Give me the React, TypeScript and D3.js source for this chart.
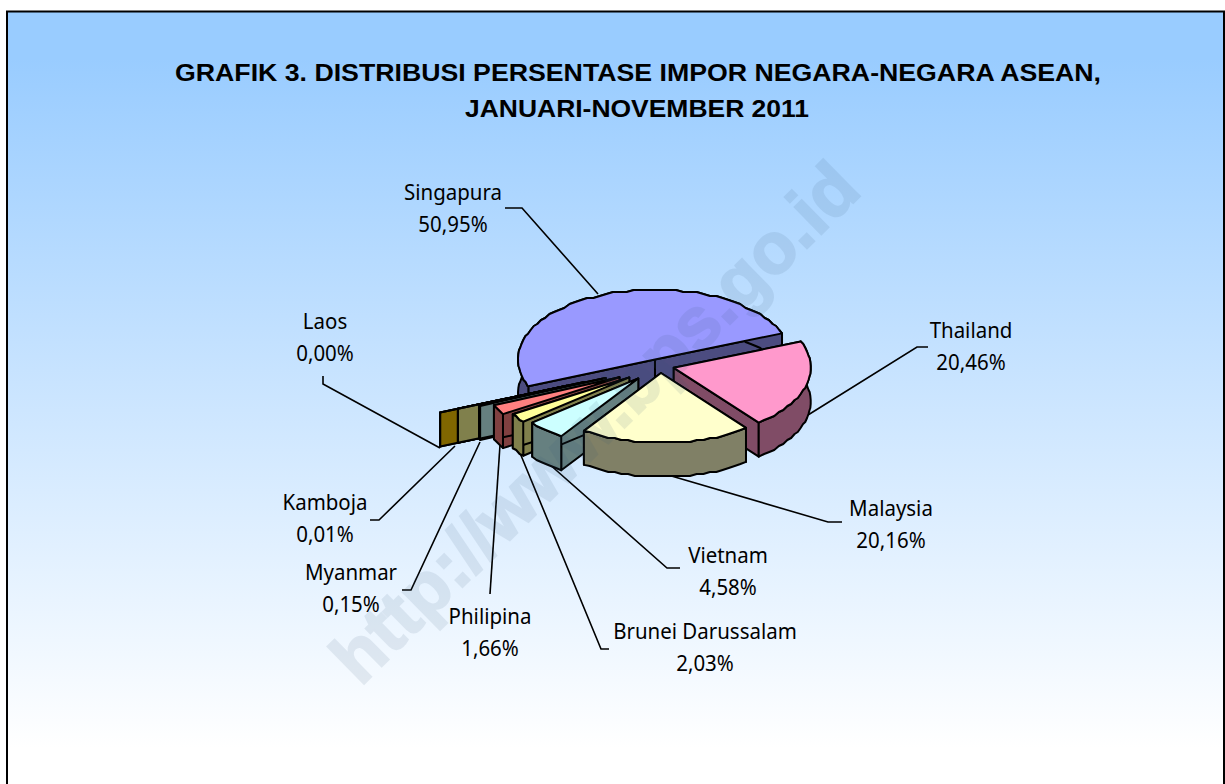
import React from "react";
import * as d3 from "d3";

const categories = ["Singapura","Thailand","Malaysia","Vietnam","Brunei Darussalam","Philipina","Myanmar","Kamboja","Laos"];
const shares = [50.95,20.46,20.16,4.58,2.03,1.66,0.15,0.01,0.0];
const valueLabels = ["50,95%","20,46%","20,16%","4,58%","2,03%","1,66%","0,15%","0,01%","0,00%"];
const explode = [0.1,0.1,0.1,0.24,0.28,0.34,0.435,0.6,0.74];
const topColors = ["#9999ff","#ff99cc","#ffffcc","#ccffff","#ffff99","#ff8080","#ccffff","#ffff99","#ffcc00"];
const sideColors = ["#4c4c80","#804c66","#808066","#668080","#80804c","#804040","#668080","#80804c","#806600"];
const drawOrder = [0,8,7,6,5,4,3,1,2];
const labelPos: [number,number][] = [[453,193],[971,331],[891,509],[728,556],[705,632],[490,617],[351,573],[325,503],[325,322]];
const leaders: [number,number][][] = [
  [[505,208],[522,208],[598,294]],
  [[928,347],[917,347],[808,415]],
  [[842,522],[828,522],[668,475]],
  [[680,568],[667,568],[548,463]],
  [[609,649],[601,649],[520,453]],
  [[490,594],[500,445]],
  [[402,590],[411,590],[480,442]],
  [[370,520],[379,520],[455,446]],
  [[323,376],[323,384],[440,448]],
];
const titleLines = ["GRAFIK 3. DISTRIBUSI PERSENTASE IMPOR NEGARA-NEGARA ASEAN,","JANUARI-NOVEMBER 2011"];
const watermark = "http://www.bps.go.id";

const W = 1225, H = 784;
const cx = 660.5, cy = 366, rx = 137, ry = 70, depth = 34;
const deg = Math.PI / 180;
const startDeg = 68 - 183.42; // Singapura's clockwise start, degrees from the top

// Slight perspective correction where the smallest slices meet Singapura
const warp = (rad: number) => {
  const a = rad / deg;
  const d = Math.abs(((a - startDeg + 540) % 360) - 180);
  return (a + 3 * Math.exp(-d / 2.5)) * deg;
};
const proj = (rad: number, r = 1): [number, number] => {
  const w = warp(rad);
  return [Math.sin(w) * rx * r, -Math.cos(w) * ry * r];
};
const line = d3.line<[number, number]>();
// The source raster has stepped, low-resolution arcs
const step = (v: number) => Math.round(v / 2) * 2;

function slice(i: number, arc: d3.PieArcDatum<number>) {
  const mid = (arc.startAngle + arc.endAngle) / 2;
  const [ex, ey] = proj(mid, explode[i]);
  const ax = cx + ex, ay = cy + ey;
  const n = Math.max(1, Math.ceil((arc.endAngle - arc.startAngle) / (3 * deg)));
  const pts = d3.range(n + 1).map((k) => {
    const [x, y] = proj(arc.startAngle + ((arc.endAngle - arc.startAngle) * k) / n);
    const end = k === 0 || k === n;
    return [ax + x, end ? ay + y : step(ay + y)] as [number, number];
  });
  const down = (p: [number, number]) => [p[0], p[1] + depth] as [number, number];
  const a: [number, number] = [ax, ay];
  const wall = [...pts, ...pts.map(down).reverse()];
  const r1 = [a, pts[0], down(pts[0]), down(a)];
  const r2 = [a, pts[n], down(pts[n]), down(a)];
  const top = [a, ...pts];
  return { wall, r1, r2, top };
}

export default function App() {
  const pie = d3.pie<number>().sort(null).value((d) => d)
    .startAngle(startDeg * deg).endAngle((startDeg + 360) * deg);
  const arcs = pie(shares);
  const stroke = { stroke: "#000", strokeWidth: 2, strokeLinejoin: "round" as const };
  const font = "'Liberation Sans', Arial, sans-serif";
  const labelFont = "'Noto Sans', 'Liberation Sans', sans-serif";
  const sx = 0.93;
  return (
    <svg width={W} height={H} style={{ position: "absolute", left: 0, top: 0, display: "block" }}>
      <defs>
        <linearGradient id="bg" x1="0" y1="0" x2="0" y2="1">
          <stop offset="0" stopColor="#99ccff" />
          <stop offset="0.06" stopColor="#99ccff" />
          <stop offset="0.94" stopColor="#ffffff" />
          <stop offset="1" stopColor="#ffffff" />
        </linearGradient>
      </defs>
      <rect width={W} height={H} fill="#fff" />
      <rect x={7} y={11.5} width={1217} height={H} fill="url(#bg)" stroke="#000" strokeWidth={2} />
      <g fontFamily={font} fontWeight="bold" fontSize={24} textAnchor="middle" fill="#000">
        <text x={638} y={81} textLength={926} lengthAdjust="spacingAndGlyphs">{titleLines[0]}</text>
        <text x={637} y={117} textLength={344} lengthAdjust="spacingAndGlyphs">{titleLines[1]}</text>
      </g>
      {leaders.map((p, i) => (
        <path key={i} d={line(p) ?? ""} fill="none" stroke="#000" strokeWidth={1.6} />
      ))}
      {drawOrder.map((i) => {
        const s = slice(i, arcs[i]);
        return (
          <g key={i} {...stroke}>
            <path d={(line(s.r1) ?? "") + "Z"} fill={sideColors[i]} />
            <path d={(line(s.r2) ?? "") + "Z"} fill={sideColors[i]} />
            <path d={(line(s.wall) ?? "") + "Z"} fill={sideColors[i]} />
            <path d={(line(s.top) ?? "") + "Z"} fill={topColors[i]} />
          </g>
        );
      })}
      <g fontFamily={labelFont} fontSize={22} textAnchor="middle" fill="#000">
        {categories.map((c, i) => (
          <g key={c} transform={`translate(${labelPos[i][0]},0) scale(${sx},1)`}>
            <text x={0} y={labelPos[i][1] + 7}>{c}</text>
            <text x={0} y={labelPos[i][1] + 39}>{valueLabels[i]}</text>
          </g>
        ))}
      </g>
      <text x={612} y={440} transform="rotate(-44.5 612 440)" fontFamily={font} fontWeight="bold" fontSize={72}
        textAnchor="middle" fill="#335577" stroke="#335577" strokeWidth={2} opacity={0.1}>{watermark}</text>
    </svg>
  );
}
